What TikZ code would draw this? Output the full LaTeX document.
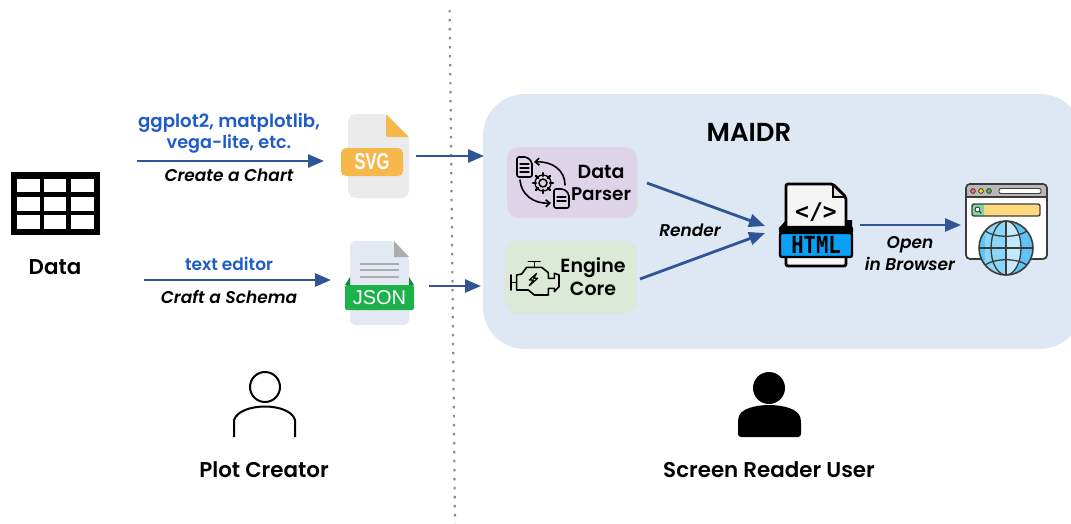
\documentclass[tikz,border=0pt]{standalone}
\usepackage{fontspec}
\setmainfont{Poppins}[BoldFont={Poppins SemiBold},BoldItalicFont={Poppins SemiBold Italic}]
\newfontfamily\iconfont{DejaVu Sans Mono}
\newfontfamily\tagfont{Liberation Sans}
\usetikzlibrary{arrows.meta,calc}
\definecolor{arrowblue}{HTML}{2F5597}
\definecolor{panelblue}{HTML}{DEE8F4}
\definecolor{textblue}{HTML}{1F5CC8}
\definecolor{parserfill}{HTML}{DDD4E9}
\definecolor{enginefill}{HTML}{DBEAD6}
\definecolor{svgorange}{HTML}{F7B84B}
\definecolor{jsongreen}{HTML}{1DB14B}
\definecolor{jsondark}{HTML}{148A38}
\definecolor{jsonpage}{HTML}{E2E9F2}
\definecolor{htmlblue}{HTML}{0AA0F5}
\definecolor{iconline}{HTML}{3C3C3C}
\definecolor{globeblue}{HTML}{5CC4F7}
\definecolor{globelight}{HTML}{C4E9FC}
\definecolor{barcolor}{HTML}{FFD97D}
\definecolor{searchgreen}{HTML}{7FD69B}
\tikzset{
  flow/.style={draw=arrowblue,line width=2.8pt,-{Triangle[length=16pt,width=13pt]}},
  lbl/.style={inner sep=0pt,align=center,font=\fontsize{17}{19}\selectfont\bfseries\itshape},
  bluelbl/.style={inner sep=0pt,text=textblue,font=\fontsize{18.2}{20}\selectfont\bfseries},
  head/.style={inner sep=0pt,font=\fontsize{21.4}{24}\selectfont\bfseries},
  boxlbl/.style={inner sep=0pt,font=\fontsize{19}{21}\selectfont\bfseries},
  modbox/.style={draw=black!12,line width=.6pt,rounded corners=12pt},
  icon/.style={line width=1.6pt,line join=round,line cap=round},
}
\begin{document}
\begin{tikzpicture}[x=1pt,y=-1pt]
\useasboundingbox (0,0) rectangle (1071,523);
\fill[white] (0,0) rectangle (1071,523);
% divider
\coordinate (divtop) at (449.6,10);
\coordinate (divbot) at (455,523);
\draw[black!45,line width=2.2pt,dash pattern=on 2.4pt off 6.6pt] (divtop) -- (divbot);
% panel
\fill[panelblue,rounded corners=42pt] (483,94) rectangle (1082,349);
% data table icon
\fill[black] (11,172) rectangle (100,235);
\foreach \xa/\xb in {17/40,44/66,71/94}
  \foreach \ya/\yb in {179/192,197/211,215/229}
    \fill[white] (\xa,\ya) rectangle (\xb,\yb);
\node[head] (data) at (55,267) {Data};
% chart path labels
\node[bluelbl] (gg) at (229,123) {ggplot2, matplotlib,};
\node[bluelbl,font=\fontsize{17.6}{20}\selectfont\bfseries] (vega) at (229,144) {vega-lite, etc.};
\node[lbl] (chart) at (229,175) {Create a Chart};
\node[inner sep=0pt,text=textblue,font=\fontsize{17}{19}\selectfont\bfseries] (editor) at (229,264) {text editor};
\node[lbl] (schema) at (229,297) {Craft a Schema};
\coordinate (a1s) at (137,161); \coordinate (a1e) at (324,161);
\coordinate (a2s) at (144,280); \coordinate (a2e) at (331,280);
\draw[flow] (a1s) -- (a1e);
\draw[flow] (a2s) -- (a2e);
% SVG icon
\fill[black!8] (386,114) -- (409,137) [rounded corners=8pt] -- (409,198) -- (348,198) -- (348,114) [sharp corners] -- (386,114) -- cycle;
\fill[svgorange,rounded corners=2pt] (386,114) -- (409,137) -- (386,137) -- cycle;
\fill[svgorange,rounded corners=5pt] (341,148) rectangle (403,176);
\node[inner sep=0pt,text=white,xscale=.72,font=\fontsize{23}{23}\selectfont\bfseries\tagfont] (svg) at (372,162) {SVG};
% JSON icon
\fill[jsonpage,rounded corners=5pt] (350,325) -- (350,241) -- (394,241) -- (409,257) -- (409,325) -- cycle;
\fill[black!32] (394,241) -- (409,257) -- (394,257) -- cycle;
\foreach \yy in {264,270,277}
  \draw[black!32,line width=1.5pt] (360,\yy) -- (399,\yy);
\fill[jsondark] (345,285) -- (350,277) -- (350,285) -- cycle;
\fill[jsondark] (414,285) -- (409,277) -- (409,285) -- cycle;
\fill[jsongreen,rounded corners=2pt] (345,285) rectangle (414,310);
\node[inner sep=0pt,text=white,font=\fontsize{20}{20}\selectfont\tagfont] (json) at (379.5,298) {JSON};
\coordinate (b1s) at (416,156); \coordinate (b1e) at (484,156);
\coordinate (b2s) at (429,286); \coordinate (b2e) at (481,286);
\draw[flow] (b1s) -- (b1e);
\draw[flow] (b2s) -- (b2e);
% MAIDR
\node[inner sep=0pt,font=\fontsize{26}{28}\selectfont\bfseries] (maidr) at (749,132) {MAIDR};
% modules
\draw[modbox,fill=parserfill] (507,147) rectangle (637,218);
\draw[modbox,fill=enginefill] (505,241) rectangle (636,313);
\node[boxlbl] (dp1) at (601,172) {Data};
\node[boxlbl,font=\fontsize{18.4}{21}\selectfont\bfseries] (dp2) at (601,194) {Parser};
\node[boxlbl] (ec1) at (593,268) {Engine};
\node[boxlbl] (ec2) at (593,289) {Core};
% parser icon
\begin{scope}[icon]
  \draw[rounded corners=2pt] (517,157) -- (527,157) -- (532,162) -- (532,177) -- (517,177) -- cycle;
  \draw[line width=1.2pt] (520,164) -- (529,164) (520,168) -- (529,168) (520,172) -- (529,172);
  \draw[rounded corners=2pt] (554,189) -- (564,189) -- (569,194) -- (569,208) -- (554,208) -- cycle;
  \draw[line width=1.2pt] (557,197) -- (566,197) (557,201) -- (566,201);
  \draw (543,183) circle (4pt);
  \foreach \ang in {0,45,...,315}
    \draw[line width=2.4pt] ($(543,183)+(\ang:7)$) -- ($(543,183)+(\ang:10)$);
  \draw[line width=1.3pt] (543,183) circle (8pt);
  \draw[-{Straight Barb[length=4pt,width=7pt]}] (565,185) .. controls (565,170) and (552,161) .. (534,162);
  \draw[-{Straight Barb[length=4pt,width=7pt]}] (520,180) .. controls (521,194) and (533,204) .. (551,203);
\end{scope}
% engine icon
\begin{scope}[shift={(495,140)},x=.3333pt,y=-.3333pt,icon]
  \draw (65,405) -- (65,450) -- (100,450) -- (118,465) -- (160,465) -- (160,445) -- (178,445) -- (178,455) -- (192,440) -- (192,405) -- (178,400) -- (178,415) -- (160,415) -- (160,398) -- (140,382) -- (95,382) -- (80,402) -- cycle;
  \draw (48,405) -- (48,450) (48,427) -- (65,427);
  \draw (118,382) -- (118,365) (100,365) -- (135,365);
  \draw[line width=1.2pt] (125,400) -- (103,420) -- (115,420) -- (103,437) -- (128,415) -- (116,415) -- cycle;
\end{scope}
% HTML icon
\fill[black] (780,227) -- (786,220) -- (852,220) -- (852,257) -- (780,257) -- cycle;
\draw[black,line width=2.8pt,fill=black!4,line join=round,rounded corners=2pt] (786,266) -- (786,184) -- (833,184) -- (846,197) -- (846,266) -- cycle;
\draw[black,line width=1.6pt,fill=black!12] (833,185) -- (833,197) -- (845,197) -- cycle;
\draw[black,line width=2.4pt,fill=black,rounded corners=2pt] (780,227) rectangle (852,233);
\draw[black,line width=2.4pt,fill=htmlblue,rounded corners=2pt] (780,233) rectangle (852,257);
\node[inner sep=0pt,font=\fontsize{23}{23}\selectfont\bfseries\iconfont] (tag) at (816,212) {</>};
\node[inner sep=0pt,yscale=1.15,font=\fontsize{20.5}{21}\selectfont\bfseries\iconfont] (html) at (816,245) {HTML};
\node[lbl] (render) at (690,230) {Render};
\coordinate (r1s) at (647,183); \coordinate (r1e) at (765,226);
\coordinate (r2s) at (640,279); \coordinate (r2e) at (765,233);
\draw[flow] (r1s) -- (r1e);
\draw[flow] (r2s) -- (r2e);
\coordinate (o1s) at (860,225); \coordinate (o1e) at (961,225);
\draw[flow] (o1s) -- (o1e);
\node[lbl] (open) at (910,244.5) {Open};
\node[lbl] (browser) at (910,264) {in Browser};
% browser icon
\draw[iconline,line width=1.4pt,fill=white,rounded corners=4pt] (966,184) rectangle (1047,259);
\fill[black!28,rounded corners=3pt] (966,184) rectangle (1047,197);
\fill[black!28] (966,191) rectangle (1047,197);
\draw[iconline,line width=1.2pt] (966,197) -- (1047,197);
\draw[iconline,line width=1.6pt,rounded corners=4pt] (966,184) rectangle (1047,259);
\foreach \xx/\cc in {973/red!60,981/yellow!80!orange,989/green!60!black!70}
  \draw[iconline,line width=.8pt,fill=\cc] (\xx,191) circle (2.4pt);
\draw[iconline,fill=white,line width=.9pt,rounded corners=2pt] (999,188.5) rectangle (1041,193.5);
\fill[barcolor] (983,204) rectangle (1040,216);
\fill[searchgreen,rounded corners=1pt] (972,204) rectangle (984,216);
\draw[iconline,line width=1.4pt,rounded corners=2pt] (972,204) rectangle (1040,216);
\draw[iconline,fill=white,line width=.9pt] (977.5,209.5) circle (2.4pt);
\draw[iconline,line width=1.2pt] (979.3,211.3) -- (981.3,213.3);
\fill[globeblue] (1006,248) circle (27pt);
\begin{scope}
  \clip (1006,248) circle (27pt);
  \fill[globelight] (1006,248) ellipse (15pt and 27pt);
  \fill[globeblue!55!globelight] (985,222) rectangle (1006,275);
\end{scope}
\draw[iconline,line width=1.6pt] (1006,248) circle (27pt);
\draw[iconline,line width=1.3pt] (1006,248) ellipse (15pt and 27pt);
\draw[iconline,line width=1.3pt] (1006,221) -- (1006,275) (979,248) -- (1033,248);
\draw[iconline,line width=1.3pt] (985,231) .. controls (995,238) and (1017,238) .. (1027,231);
\draw[iconline,line width=1.3pt] (985,265) .. controls (995,258) and (1017,258) .. (1027,265);
% people
\draw[black,line width=2pt] (265,387) circle (15pt);
\draw[black,line width=2pt] (234,437) -- (234,420) .. controls (240,402) and (290,402) .. (295,420) -- (295,437);
\node[head] (plot) at (264,470) {Plot Creator};
\fill[black] (769,388) circle (16pt);
\fill[black,rounded corners=3pt] (738,437) -- (738,420) .. controls (742,401) and (796,401) .. (801,420) -- (801,437) -- cycle;
\node[head] (reader) at (769,470) {Screen Reader User};
\end{tikzpicture}
\end{document}
